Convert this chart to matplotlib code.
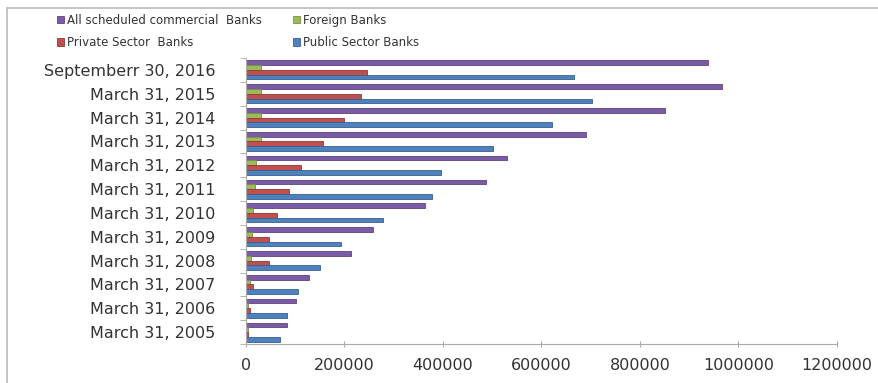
import numpy as np
import matplotlib as mpl
mpl.use('Agg')
import matplotlib.pyplot as plt
from matplotlib.lines import Line2D

mpl.rcParams['font.family'] = ['DejaVu Sans']

# categories bottom -> top
dates = ['March 31, 2005', 'March 31, 2006', 'March 31, 2007', 'March 31, 2008',
         'March 31, 2009', 'March 31, 2010', 'March 31, 2011', 'March 31, 2012',
         'March 31, 2013', 'March 31, 2014', 'March 31, 2015', 'Septemberr 30, 2016']
all_banks = [83000, 101000, 128000, 213000, 258000, 363000, 487000, 530000,
             690000, 851000, 966000, 938000]
foreign = [4000, 5000, 8000, 10000, 12000, 15000, 18000, 20000,
           30000, 30000, 30000, 30000]
private = [5000, 8000, 14000, 47000, 47000, 63000, 88000, 112000,
           156000, 199000, 233000, 246000]
public = [69000, 83000, 105000, 150000, 193000, 278000, 377000, 396000,
          501000, 621000, 702000, 666000]
xticks = [0, 200000, 400000, 600000, 800000, 1000000, 1200000]

c_all, c_for, c_pri, c_pub = '#7B5AA6', '#9BBB59', '#C0504D', '#4F81BD'
e_all, e_for, e_pri, e_pub = '#5E4382', '#76923C', '#943634', '#365F91'

fig = plt.figure(figsize=(8.79, 3.83), dpi=100)
ax = fig.add_axes([246/879, 1-344/383, 591/879, 286/383])

y = np.arange(len(dates))
h = 0.2
b_all = ax.barh(y + 1.5*h, all_banks, height=h, color=c_all, edgecolor=e_all, linewidth=0.6)
b_for = ax.barh(y + 0.5*h, foreign, height=h, color=c_for, edgecolor=e_for, linewidth=0.6)
b_pri = ax.barh(y - 0.5*h, private, height=h, color=c_pri, edgecolor=e_pri, linewidth=0.6)
b_pub = ax.barh(y - 1.5*h, public, height=h, color=c_pub, edgecolor=e_pub, linewidth=0.6)

ax.set_xlim(0, 1200000)
ax.set_ylim(-0.5, len(dates) - 0.5)
ax.set_xticks(xticks)
ax.set_xticklabels([str(t) for t in xticks], fontsize=11.5, color='#333333')
ax.set_yticks(y)
ax.set_yticklabels(dates, fontsize=11.5, color='#333333')
ax.set_yticks(np.arange(-0.5, len(dates), 1), minor=True)
ax.tick_params(axis='y', which='major', length=0, pad=22)
ax.tick_params(axis='y', which='minor', length=4, color='#AAAAAA', direction='out')
ax.tick_params(axis='x', length=4, color='#AAAAAA', direction='inout', pad=8)
for s in ['top', 'right']:
    ax.spines[s].set_visible(False)
for s in ['left', 'bottom']:
    ax.spines[s].set_color('#AAAAAA')
    ax.spines[s].set_linewidth(0.8)

fig.legend([b_all, b_pri, b_for, b_pub],
           ['All scheduled commercial  Banks', 'Private Sector  Banks',
            'Foreign Banks', 'Public Sector Banks'],
           ncol=2, loc='upper left', bbox_to_anchor=(46/879, 1-3/383),
           frameon=False, fontsize=8.5, handlelength=0.6, handleheight=0.6,
           handletextpad=0.3, columnspacing=2.6, labelspacing=0.8,
           labelcolor='#333333')

# outer chart border (top and left only)
fig.add_artist(Line2D([7/879, 1], [1-8/383, 1-8/383], transform=fig.transFigure,
                      color='#BBBBBB', linewidth=1.2))
fig.add_artist(Line2D([7/879, 7/879], [0, 1-8/383], transform=fig.transFigure,
                      color='#BBBBBB', linewidth=1.2))

fig.savefig('out.png', dpi=100)
